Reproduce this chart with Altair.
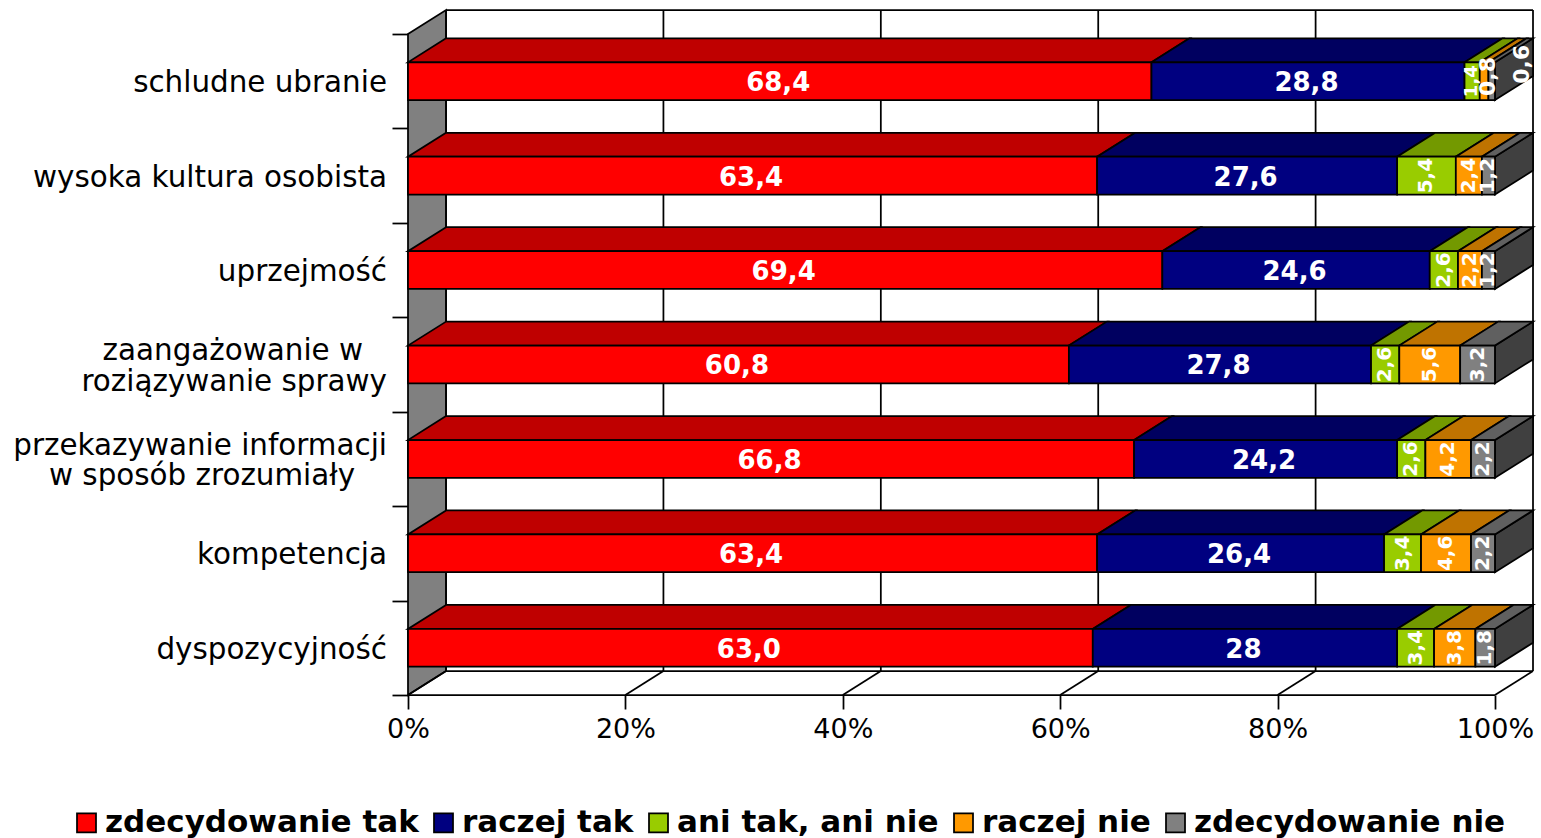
import altair as alt
import pandas as pd

# Survey answers, one row per attribute, in percent
category_lines = [
    ["schludne ubranie"],
    ["wysoka kultura osobista"],
    ["uprzejmość"],
    ["zaangażowanie w", "roziązywanie sprawy"],
    ["przekazywanie informacji", "w sposób zrozumiały"],
    ["kompetencja"],
    ["dyspozycyjność"],
]
series = ["zdecydowanie tak", "raczej tak", "ani tak, ani nie", "raczej nie", "zdecydowanie nie"]
zdecydowanie_tak = [68.4, 63.4, 69.4, 60.8, 66.8, 63.4, 63.0]
raczej_tak = [28.8, 27.6, 24.6, 27.8, 24.2, 26.4, 28.0]
ani_tak_ani_nie = [1.4, 5.4, 2.6, 2.6, 2.6, 3.4, 3.4]
raczej_nie = [0.8, 2.4, 2.2, 5.6, 4.2, 4.6, 3.8]
zdecydowanie_nie = [0.6, 1.2, 1.2, 3.2, 2.2, 2.2, 1.8]
value_labels = [
    ["68,4", "63,4", "69,4", "60,8", "66,8", "63,4", "63,0"],
    ["28,8", "27,6", "24,6", "27,8", "24,2", "26,4", "28"],
    ["1,4", "5,4", "2,6", "2,6", "2,6", "3,4", "3,4"],
    ["0,8", "2,4", "2,2", "5,6", "4,2", "4,6", "3,8"],
    ["0,6", "1,2", "1,2", "3,2", "2,2", "2,2", "1,8"],
]
columns = [zdecydowanie_tak, raczej_tak, ani_tak_ani_nie, raczej_nie, zdecydowanie_nie]
front_colors = ["#ff0000", "#000080", "#99cc00", "#ff9900", "#808080"]
top_colors = ["#bf0000", "#000060", "#739900", "#bf7300", "#606060"]
side_color = "#404040"
wall_color = "#808080"
x_ticks = [0, 20, 40, 60, 80, 100]

# Pseudo-3D geometry in data units: one row band is 1 on y, depth runs up and to the right
DEPTH_X = 3.5
DEPTH_Y = 0.254
HALF_BAR = 0.2
LINE_STEP = 0.318
N = len(category_lines)
Y_TOP = N + DEPTH_Y
X_MAX = 100 + DEPTH_X
EDGE = 1.75

x_scale = alt.Scale(domain=[0, X_MAX], nice=False, zero=False)
y_scale = alt.Scale(domain=[0, Y_TOP], nice=False, zero=False)

FONT = "DejaVu Sans"

# Every layer carries the same axis definition so that Vega-Lite merges them into one
x_axis = alt.Axis(
    values=x_ticks, grid=False, domain=False, tickColor="black", tickWidth=EDGE, tickSize=14,
    labelExpr="datum.value + '%'", labelFont=FONT, labelFontSize=27, labelColor="black",
    labelPadding=7, labelOverlap=False, labelFlush=False, title=None,
)
y_axis = alt.Axis(
    values=list(range(N + 1)), grid=False, domain=False, labels=False, tickColor="black",
    tickWidth=EDGE, tickSize=16, title=None,
)
X = alt.X("x:Q", scale=x_scale, axis=x_axis, stack=None)
Y = alt.Y("y:Q", scale=y_scale, axis=y_axis)

fronts, tops, sides, labels, cats = [], [], [], [], []
# Labels of the thinnest segments in the first row: offset (x in data units, y in row units)
label_shift = {(0, 3): (0.4, 0.05), (0, 4): (2.8, 0.18)}
# The same two labels are set a little larger than the other rotated ones
label_size = {(0, 2): 18, (0, 3): 22, (0, 4): 22}
# Wrapped category names read centred, so the shorter line is pulled in from the right edge
line_indent = {"zaangażowanie w": 2.2, "w sposób zrozumiały": 2.94}
for r, lines in enumerate(category_lines):
    mid = N - r - 0.5
    for i, line in enumerate(lines):
        cats.append(dict(
            text=line,
            x=-line_indent.get(line, 0),
            y=mid + LINE_STEP * ((len(lines) - 1) / 2 - i),
        ))
    left = 0.0
    for s, name in enumerate(series):
        val = columns[s][r]
        right = left + val
        low, high = mid - HALF_BAR, mid + HALF_BAR
        fronts.append(dict(series=name, x=left, x2=right, y=low, y2=high))
        face = f"{r}-{s}"
        tops.append(dict(face=face, shade=top_colors[s], y=high, x=left, x2=right))
        tops.append(dict(face=face, shade=top_colors[s], y=high + DEPTH_Y,
                         x=left + DEPTH_X, x2=right + DEPTH_X))
        shift = label_shift.get((r, s), (0, 0))
        labels.append(dict(text=value_labels[s][r], x=(left + right) / 2 + shift[0],
                           y=mid + shift[1], narrow=val < 10, size=label_size.get((r, s), 20)))
        left = right
    sides.append(dict(face=f"side{r}", x=left, y=mid - HALF_BAR, y2=mid + HALF_BAR))
    sides.append(dict(face=f"side{r}", x=left + DEPTH_X, y=mid - HALF_BAR + DEPTH_Y,
                      y2=mid + HALF_BAR + DEPTH_Y))

df_front = pd.DataFrame(fronts)
df_top = pd.DataFrame(tops)
df_side = pd.DataFrame(sides)
df_label = pd.DataFrame(labels)
df_cat = pd.DataFrame(cats)

# Frame lines of the box: floor, back wall and the grid that runs across them
edges = []
def edge(name, x0, y0, x1, y1):
    edges.append(dict(edge=name, x=x0, y=y0))
    edges.append(dict(edge=name, x=x1, y=y1))

edge("floor-front", 0, 0, 100, 0)
edge("floor-back", DEPTH_X, DEPTH_Y, 100 + DEPTH_X, DEPTH_Y)
edge("back-top", DEPTH_X, Y_TOP, 100 + DEPTH_X, Y_TOP)
for t in x_ticks:
    edge(f"floor-{t}", t, 0, t + DEPTH_X, DEPTH_Y)
    edge(f"grid-{t}", t + DEPTH_X, DEPTH_Y, t + DEPTH_X, Y_TOP)
df_edge = pd.DataFrame(edges)

df_wall = pd.DataFrame([
    dict(x=0, y=0, y2=N),
    dict(x=DEPTH_X, y=DEPTH_Y, y2=Y_TOP),
])

wall = alt.Chart(df_wall).mark_area(
    orient="vertical", color=wall_color, stroke="black", strokeWidth=EDGE
).encode(x=X, y=Y, y2="y2:Q")

frame = alt.Chart(df_edge).mark_line(color="black", strokeWidth=EDGE).encode(
    x=X, y=Y, detail="edge:N",
)

side = alt.Chart(df_side).mark_area(
    orient="vertical", color=side_color, stroke="black", strokeWidth=EDGE
).encode(x=X, y=Y, y2="y2:Q", detail="face:N")

top = alt.Chart(df_top).mark_area(
    orient="horizontal", stroke="black", strokeWidth=EDGE
).encode(
    y=Y,
    x=X,
    x2="x2:Q",
    fill=alt.Fill("shade:N", scale=None),
    detail="face:N",
)

front = alt.Chart(df_front).mark_rect(stroke="black", strokeWidth=EDGE).encode(
    x=X,
    x2="x2:Q",
    y=Y,
    y2="y2:Q",
    fill=alt.Fill("series:N", scale=alt.Scale(domain=series, range=front_colors), legend=alt.Legend(
        orient="none", legendX=-337, legendY=797, direction="horizontal", columns=5, title=None,
        symbolType="square", symbolSize=361, symbolStrokeColor="black", symbolStrokeWidth=EDGE,
        labelFont=FONT, labelFontSize=31, labelFontWeight="bold", labelColor="black",
        labelOffset=3, columnPadding=9, labelLimit=0,
    )),
)

wide_text = alt.Chart(df_label[~df_label["narrow"]]).mark_text(
    font=FONT, fontWeight="bold", fontSize=26, color="white", baseline="middle", align="center", dx=-1.5, dy=2
).encode(x=X, y=Y, text="text:N")

narrow_text = alt.Chart(df_label[df_label["narrow"]]).mark_text(
    font=FONT, fontWeight="bold", color="white", baseline="middle", align="center", angle=270
).encode(x=X, y=Y, text="text:N", size=alt.Size("size:Q", scale=None))

category_text = alt.Chart(df_cat).mark_text(
    font=FONT, fontSize=29.4, color="black", baseline="middle", align="right", dx=-21, dy=2
).encode(x=X, y=Y, text="text:N")

chart = alt.layer(wall, frame, side, top, front, wide_text, narrow_text, category_text).properties(
    width=1541,
    height=838,
    background="white",
    padding={"left": 408, "top": 10, "right": 8, "bottom": 143},
    autosize=alt.AutoSizeParams(type="none", contains="padding"),
).configure_view(stroke=None)

chart.save("out.html", embed_options={"renderer": "svg", "actions": False})
